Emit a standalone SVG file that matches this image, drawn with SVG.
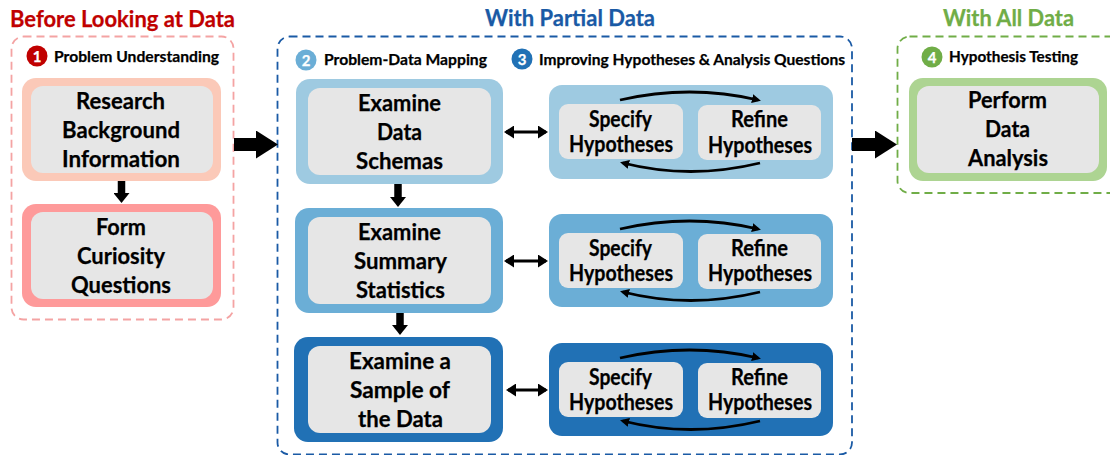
<svg xmlns="http://www.w3.org/2000/svg" width="1110" height="455" viewBox="0 0 1110 455">
<style>
text{font-family:"Lato","Carlito","Open Sans",sans-serif;font-weight:700;fill:#000;text-anchor:start;stroke:#000;stroke-width:.25}
.t{font-size:23px}.h{font-size:22px}.s{font-size:15px}.c{font-size:15px;fill:#fff;stroke:#fff;text-anchor:middle}
.title{font-size:23.500px}
.in{fill:#e6e6e6}
.big{stroke:#000;stroke-width:13;fill:none}
.down{stroke:#000;stroke-width:7.5;fill:none}
.both{stroke:#000;stroke-width:3;fill:none}
.arc{stroke:#000;stroke-width:2.8;fill:none}
.dash{fill:none;stroke-width:1.8;stroke-dasharray:8 5}
</style>
<defs>
<marker id="mBig" markerUnits="userSpaceOnUse" markerWidth="22" markerHeight="28" refX="0" refY="14" orient="auto"><path d="M0 0L22 14L0 28Z"/></marker>
<marker id="mDown" markerUnits="userSpaceOnUse" markerWidth="10" markerHeight="16" refX="0" refY="8" orient="auto"><path d="M0 0L10 8L0 16Z"/></marker>
<marker id="mBoth" markerUnits="userSpaceOnUse" markerWidth="10" markerHeight="13" refX="8" refY="6.5" orient="auto-start-reverse"><path d="M0 0L10 6.5L0 13Z"/></marker>
<marker id="mArc" markerUnits="userSpaceOnUse" markerWidth="9" markerHeight="9" refX="6" refY="4.5" orient="auto"><path d="M0 0L9 4.5L0 9Z"/></marker>
</defs>

<text x="10" y="27" class="title" style="fill:#c00000;stroke:#c00000" textLength="225" lengthAdjust="spacingAndGlyphs">Before Looking at Data</text>
<text x="485" y="26" class="title" style="fill:#1a5aa5;stroke:#1a5aa5" textLength="170" lengthAdjust="spacingAndGlyphs">With Partial Data</text>
<text x="943" y="26" class="title" style="fill:#70ad47;stroke:#70ad47" textLength="131" lengthAdjust="spacingAndGlyphs">With All Data</text>

<g id="stage-before"><rect class="dash" x="11.500" y="36.500" width="222" height="283" rx="12" stroke="#f4a3a3"/></g>
<g id="stage-partial"><rect class="dash" x="277.500" y="36.500" width="574.500" height="418" rx="12" stroke="#1a5aa5"/></g>
<g id="stage-all"><rect class="dash" x="897.500" y="36.500" width="230" height="156.500" rx="12" stroke="#70ad47"/></g>

<g id="label-1"><circle cx="37" cy="56" r="10.500" fill="#c00000"/><text x="37" y="61.500" class="c">1</text><text x="54" y="62" class="s" textLength="165" lengthAdjust="spacingAndGlyphs">Problem Understanding</text></g>
<g id="label-2"><circle cx="306" cy="60" r="10.500" fill="#6baed6"/><text x="306" y="65.500" class="c">2</text><text x="324" y="65" class="s" textLength="163" lengthAdjust="spacingAndGlyphs">Problem-Data Mapping</text></g>
<g id="label-3"><circle cx="522" cy="59" r="10.500" fill="#2171b5"/><text x="522" y="64.500" class="c">3</text><text x="539" y="65" class="s" textLength="306" lengthAdjust="spacingAndGlyphs">Improving Hypotheses &amp; Analysis Questions</text></g>
<g id="label-4"><circle cx="932" cy="57" r="10.500" fill="#70ad47"/><text x="932" y="62.500" class="c">4</text><text x="949" y="62" class="s" textLength="129" lengthAdjust="spacingAndGlyphs">Hypothesis Testing</text></g>

<g id="node-research"><rect x="22" y="78" width="199" height="103" rx="14" fill="#fbc9b8"/><rect class="in" x="31" y="86" width="182" height="87" rx="12"/>
<text x="76" y="109" class="t" textLength="89" lengthAdjust="spacingAndGlyphs">Research</text><text x="62" y="138" class="t" textLength="118" lengthAdjust="spacingAndGlyphs">Background</text><text x="62" y="167" class="t" textLength="118" lengthAdjust="spacingAndGlyphs">Information</text></g>
<g id="node-curiosity"><rect x="22" y="204" width="199" height="103" rx="14" fill="#fe9a9a"/><rect class="in" x="31" y="212" width="182" height="87" rx="12"/>
<text x="96" y="235" class="t" textLength="50" lengthAdjust="spacingAndGlyphs">Form</text><text x="77" y="264" class="t" textLength="88" lengthAdjust="spacingAndGlyphs">Curiosity</text><text x="71" y="293" class="t" textLength="100" lengthAdjust="spacingAndGlyphs">Questions</text></g>

<g id="node-schemas"><rect x="296" y="79" width="207" height="105" rx="14" fill="#9ecae1"/><rect class="in" x="308" y="88" width="183" height="87" rx="12"/>
<text x="358" y="111" class="t" textLength="83" lengthAdjust="spacingAndGlyphs">Examine</text><text x="377" y="140" class="t" textLength="45" lengthAdjust="spacingAndGlyphs">Data</text><text x="356" y="169" class="t" textLength="87" lengthAdjust="spacingAndGlyphs">Schemas</text></g>
<g id="node-summary"><rect x="295" y="208" width="208" height="105" rx="14" fill="#6baed6"/><rect class="in" x="308" y="217" width="183" height="87" rx="12"/>
<text x="358" y="240" class="t" textLength="83" lengthAdjust="spacingAndGlyphs">Examine</text><text x="354" y="269" class="t" textLength="93" lengthAdjust="spacingAndGlyphs">Summary</text><text x="356" y="298" class="t" textLength="89" lengthAdjust="spacingAndGlyphs">Statistics</text></g>
<g id="node-sample"><rect x="294" y="337" width="209" height="105" rx="14" fill="#2171b5"/><rect class="in" x="308" y="346" width="183" height="87" rx="12"/>
<text x="349" y="369" class="t" textLength="102" lengthAdjust="spacingAndGlyphs">Examine a</text><text x="350" y="398" class="t" textLength="100" lengthAdjust="spacingAndGlyphs">Sample of</text><text x="358" y="427" class="t" textLength="85" lengthAdjust="spacingAndGlyphs">the Data</text></g>

<g id="node-hyp-1"><rect x="549" y="85" width="284" height="94" rx="13" fill="#9ecae1"/><rect class="in" x="559" y="104" width="124" height="55" rx="9"/><rect class="in" x="698" y="105" width="123" height="55" rx="9"/>
<text x="589" y="126.500" class="h" textLength="63" lengthAdjust="spacingAndGlyphs">Specify</text><text x="569" y="152" class="h" textLength="104" lengthAdjust="spacingAndGlyphs">Hypotheses</text><text x="731" y="127" class="h" textLength="57" lengthAdjust="spacingAndGlyphs">Refine</text><text x="708" y="153" class="h" textLength="104" lengthAdjust="spacingAndGlyphs">Hypotheses</text></g>
<g id="node-hyp-2"><rect x="549" y="214" width="284" height="93" rx="13" fill="#6baed6"/><rect class="in" x="559" y="233" width="124" height="55" rx="9"/><rect class="in" x="698" y="234" width="123" height="55" rx="9"/>
<text x="589" y="255.500" class="h" textLength="63" lengthAdjust="spacingAndGlyphs">Specify</text><text x="569" y="281" class="h" textLength="104" lengthAdjust="spacingAndGlyphs">Hypotheses</text><text x="731" y="256" class="h" textLength="57" lengthAdjust="spacingAndGlyphs">Refine</text><text x="708" y="281" class="h" textLength="104" lengthAdjust="spacingAndGlyphs">Hypotheses</text></g>
<g id="node-hyp-3"><rect x="549" y="343" width="284" height="93" rx="13" fill="#2171b5"/><rect class="in" x="559" y="362" width="124" height="55" rx="9"/><rect class="in" x="698" y="363" width="123" height="55" rx="9"/>
<text x="589" y="384.500" class="h" textLength="63" lengthAdjust="spacingAndGlyphs">Specify</text><text x="569" y="410" class="h" textLength="104" lengthAdjust="spacingAndGlyphs">Hypotheses</text><text x="731" y="385" class="h" textLength="57" lengthAdjust="spacingAndGlyphs">Refine</text><text x="708" y="410" class="h" textLength="104" lengthAdjust="spacingAndGlyphs">Hypotheses</text></g>

<g id="node-perform"><rect x="909" y="78" width="198" height="103" rx="14" fill="#add492"/><rect class="in" x="917" y="86" width="182" height="87" rx="12"/>
<text x="968" y="108" class="t" textLength="79" lengthAdjust="spacingAndGlyphs">Perform</text><text x="985" y="137" class="t" textLength="45" lengthAdjust="spacingAndGlyphs">Data</text><text x="968" y="166" class="t" textLength="80" lengthAdjust="spacingAndGlyphs">Analysis</text></g>

<g id="connectors">
<line class="big" x1="234" y1="144.500" x2="256" y2="144.500" marker-end="url(#mBig)"/>
<line class="big" x1="852" y1="144.500" x2="875" y2="144.500" marker-end="url(#mBig)"/>
<line class="down" x1="121.500" y1="181" x2="121.500" y2="193" marker-end="url(#mDown)"/>
<line class="down" x1="398" y1="184" x2="398" y2="197" marker-end="url(#mDown)"/>
<line class="down" x1="400" y1="313" x2="400" y2="325" marker-end="url(#mDown)"/>
<line class="both" x1="506" y1="132" x2="546" y2="132" marker-start="url(#mBoth)" marker-end="url(#mBoth)"/>
<line class="both" x1="506" y1="261" x2="546" y2="261" marker-start="url(#mBoth)" marker-end="url(#mBoth)"/>
<line class="both" x1="508" y1="390" x2="546" y2="390" marker-start="url(#mBoth)" marker-end="url(#mBoth)"/>
<path class="arc" d="M620 100Q690 84 758 100" marker-end="url(#mArc)"/>
<path class="arc" d="M760 163Q690 180 623 163" marker-end="url(#mArc)"/>
<path class="arc" d="M620 229Q690 213 758 229" marker-end="url(#mArc)"/>
<path class="arc" d="M760 292Q690 309 623 292" marker-end="url(#mArc)"/>
<path class="arc" d="M620 358Q690 342 758 358" marker-end="url(#mArc)"/>
<path class="arc" d="M760 421Q690 438 623 421" marker-end="url(#mArc)"/>
</g>
</svg>
